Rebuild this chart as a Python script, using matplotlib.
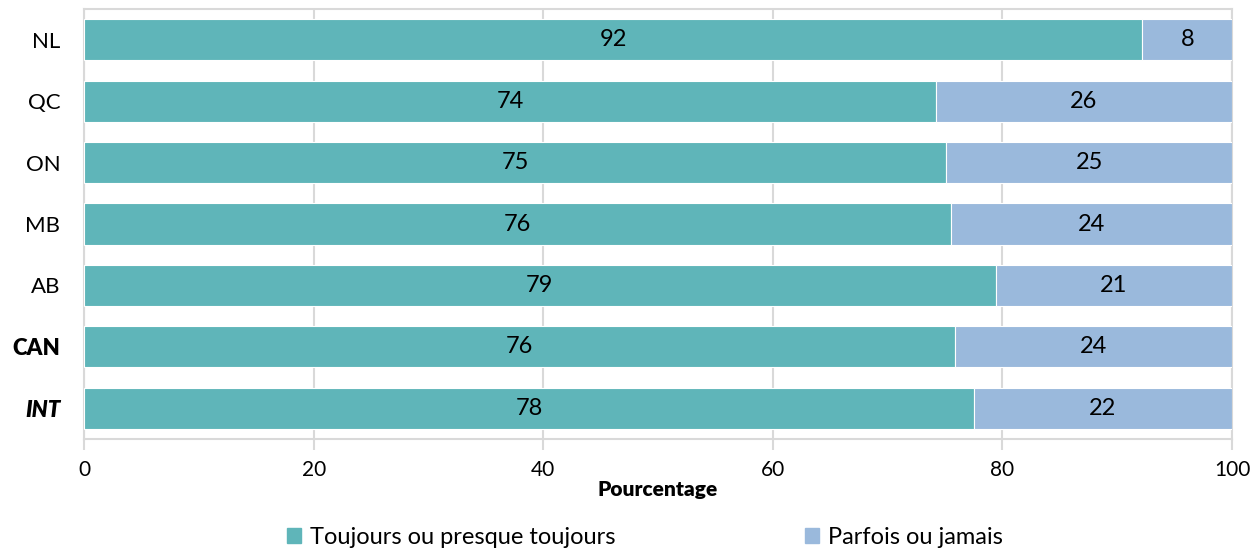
import numpy as np
import matplotlib.pyplot as plt
from matplotlib.patches import Patch

plt.rcParams['font.family'] = ['Lato', 'DejaVu Sans']

regions = ['NL', 'QC', 'ON', 'MB', 'AB', 'CAN', 'INT']
toujours = [92.2, 74.2, 75.1, 75.5, 79.4, 75.9, 77.5]
parfois = [7.8, 25.8, 24.9, 24.5, 20.6, 24.1, 22.5]
toujoursLabels = ['92', '74', '75', '76', '79', '76', '78']
parfoisLabels = ['8', '26', '25', '24', '21', '24', '22']
seriesNames = ['Toujours ou presque toujours', 'Parfois ou jamais']
colors = ['#5fb5b9', '#9ab9dc']
gridColor = '#d9d9d9'


def main():
    fig = plt.figure(figsize=(12.6, 5.52), dpi=100)
    ax = fig.add_axes([0.0667, 0.2047, 0.9111, 0.779])
    y = np.arange(len(regions))
    h = 0.67
    ax.barh(y, toujours, h, color=colors[0], edgecolor='white', linewidth=0.8, zorder=3)
    ax.barh(y, parfois, h, left=toujours, color=colors[1], edgecolor='white', linewidth=0.8, zorder=3)
    for i in range(len(regions)):
        ax.text(toujours[i] / 2, y[i], toujoursLabels[i], ha='center', va='center', fontsize=17, zorder=4)
        ax.text(toujours[i] + parfois[i] / 2, y[i], parfoisLabels[i], ha='center', va='center', fontsize=17, zorder=4)

    ax.set_xlim(0, 100)
    ax.set_ylim(6.5, -0.5)
    ax.set_xticks(np.arange(0, 101, 20))
    ax.set_yticks(y)
    ax.set_yticklabels(regions, fontsize=16)
    labs = ax.get_yticklabels()
    labs[5].set_fontweight('heavy')
    labs[6].set_fontweight('heavy')
    labs[6].set_fontstyle('italic')
    ax.tick_params(axis='y', length=0, pad=17)
    ax.tick_params(axis='x', length=8, color=gridColor, width=1.5, labelsize=15, pad=7)
    ax.grid(axis='x', color=gridColor, linewidth=1.5, zorder=0)
    for s in ax.spines.values():
        s.set_color(gridColor)
        s.set_linewidth(1.5)
    ax.set_xlabel('Pourcentage', fontsize=15, fontweight='heavy', labelpad=0)

    handles = [Patch(color=colors[0]), Patch(color=colors[1])]
    fig.legend(handles, seriesNames, loc='center', bbox_to_anchor=(0.512, 0.027), ncol=2,
               frameon=False, fontsize=17, handlelength=0.6, handleheight=0.6,
               handletextpad=0.4, columnspacing=8.0)
    fig.savefig('out.png')


if __name__ == "__main__":
    main()
